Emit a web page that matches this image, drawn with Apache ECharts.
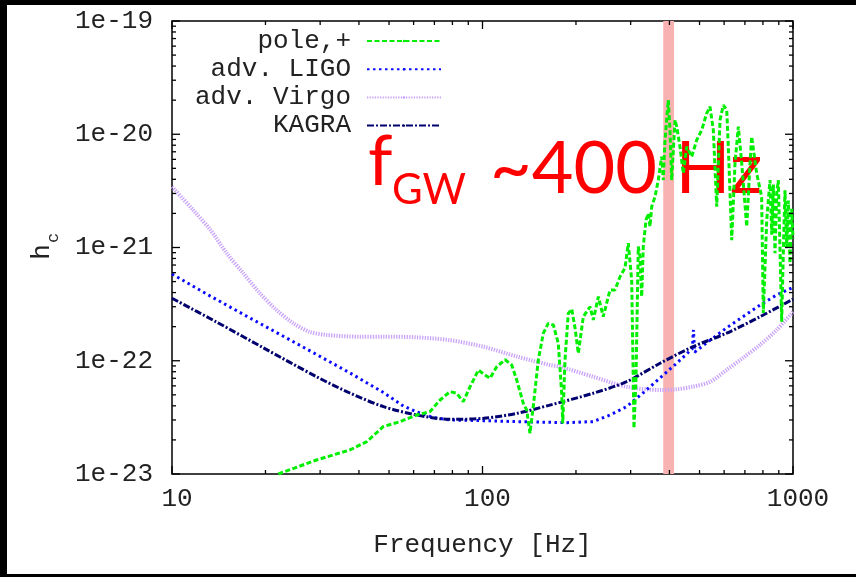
<!DOCTYPE html>
<html><head><meta charset="utf-8">
<script src="https://cdn.jsdelivr.net/npm/echarts@6/dist/echarts.min.js"></script>
<style>html,body{margin:0;padding:0;background:#fff}#c{width:856px;height:577px}</style>
</head><body><div id="c"></div>
<script>
// ---- data (frequency [Hz], h_c) ----
const seriesNames = ['pole,+', 'adv. LIGO', 'adv. Virgo', 'KAGRA'];
const pole = [[22.0,1.0e-23],[29.2,1.33e-23],[37.4,1.63e-23],[42.4,1.93e-23],[47.9,2.62e-23],[54.2,2.90e-23],[61.4,3.32e-23],[67.7,3.55e-23],[73.0,4.50e-23],[78.6,5.33e-23],[82.6,5.16e-23],[86.7,4.35e-23],[91.2,5.90e-23],[97.0,8.28e-23],[101.9,7.48e-23],[105.7,7.00e-23],[111.1,8.86e-23],[118.2,1.02e-22],[124.2,9.18e-23],[128.9,6.76e-23],[135.3,4.21e-23],[138.8,3.67e-23],[142.2,2.29e-23],[145.7,3.93e-23],[151.3,1.02e-22],[157.0,1.75e-22],[162.9,2.14e-22],[169.1,2.07e-22],[175.4,1.43e-22],[179.9,5.16e-23],[181.3,2.80e-23],[184.4,1.02e-22],[188.9,2.62e-22],[193.8,2.86e-22],[198.6,1.95e-22],[203.5,1.16e-22],[211.2,2.45e-22],[222.0,3.00e-22],[227.5,2.29e-22],[236.1,3.68e-22],[244.9,2.45e-22],[257.4,4.21e-22],[267.1,4.21e-22],[277.2,5.52e-22],[287.7,6.59e-22],[294.8,1.09e-21],[302.3,5.16e-22],[305.9,6.76e-23],[307.5,2.53e-23],[312.1,6.76e-23],[317.5,1.02e-21],[321.5,8.30e-22],[325.6,3.68e-22],[329.5,1.02e-21],[336.2,1.75e-21],[342.0,2.00e-21],[346.3,1.53e-21],[350.7,2.29e-21],[359.4,2.81e-21],[368.3,3.94e-21],[377.6,6.34e-21],[382.2,3.94e-21],[387.0,8.89e-21],[396.6,2.00e-20],[401.6,1.09e-20],[406.7,3.94e-21],[416.9,1.34e-20],[422.1,1.17e-20],[432.5,7.76e-21],[443.3,4.52e-21],[454.6,7.76e-21],[471.8,6.34e-21],[489.7,8.89e-21],[508.2,1.09e-20],[527.2,1.53e-20],[540.4,1.75e-20],[553.8,1.09e-20],[568.0,2.29e-21],[582.1,1.34e-20],[596.5,1.81e-20],[611.8,1.64e-20],[619.0,7.76e-21],[634.8,1.16e-21],[650.5,5.54e-21],[666.6,1.17e-20],[683.7,5.54e-21],[709.5,1.53e-21],[727.0,5.54e-21],[736.2,9.51e-21],[763.8,4.52e-21],[792.5,2.81e-21],[802.4,2.64e-22],[823,1.75e-21],[843.3,3.94e-21],[854,1.3e-21],[864.5,3.6e-21],[874.9,8.89e-22],[886.5,3.0e-21],[896.7,3.94e-21],[907.8,1.0e-21],[919.5,2.21e-22],[930.6,8.89e-22],[942.4,3.2e-21],[954.4,1.0e-21],[966.0,2.6e-21],[977.9,7.25e-22],[990,2.2e-21],[1000,1.2e-21]];
const ligo = [[10,5.84e-22],[13.25,3.74e-22],[17.8,2.39e-22],[25.8,1.37e-22],[37.4,7.81e-23],[48,5.24e-23],[55.6,3.98e-23],[61.4,3.53e-23],[69.5,3.15e-23],[78.7,3.0e-23],[100.5,2.96e-23],[128.9,2.90e-23],[186.6,2.84e-23],[227,2.90e-23],[257.6,3.32e-23],[291,3.93e-23],[328.6,5.19e-23],[373,7.05e-23],[422,9.5e-23],[474,1.28e-22],[478,1.87e-22],[482,1.19e-22],[541,1.52e-22],[611,1.95e-22],[690,2.45e-22],[783,3.10e-22],[886,3.81e-22],[1000,4.45e-22]];
const virgo = [[10,3.44e-21],[11.7,2.14e-21],[13.3,1.43e-21],[15.0,8.89e-22],[16.97,5.92e-22],[19.2,3.94e-22],[21.7,2.81e-22],[24.6,2.14e-22],[27.8,1.80e-22],[31.5,1.69e-22],[40.3,1.63e-22],[48,1.63e-22],[61.4,1.61e-22],[78.5,1.52e-22],[100.7,1.33e-22],[128.9,1.09e-22],[164.8,9.18e-23],[177.7,8.86e-23],[227,7.23e-23],[291,5.90e-23],[373,5.52e-23],[422,5.6e-23],[476,5.90e-23],[541,6.53e-23],[611,8.28e-23],[690,1.06e-22],[783,1.38e-22],[886,1.87e-22],[1000,2.7e-22]];
const kagra = [[10,3.56e-22],[13.9,2.20e-22],[19.7,1.30e-22],[29.2,7.23e-23],[37.4,5.19e-23],[48,3.93e-23],[61.4,3.32e-23],[78.5,3.04e-23],[100.7,3.10e-23],[128.9,3.43e-23],[164.8,4.06e-23],[227,5.16e-23],[291,6.53e-23],[373,9.5e-23],[476,1.33e-22],[611,1.75e-22],[783,2.45e-22],[1000,3.5e-22]];
const band = [382, 414];                 // highlighted frequency band [Hz]
const xMajor = [10, 100, 1000];
const xMinor = [20,30,40,50,60,70,80,90,200,300,400,500,600,700,800,900];
const yMajor = [1e-23, 1e-22, 1e-21, 1e-20, 1e-19];
const yTickLabels = ['1e-23', '1e-22', '1e-21', '1e-20', '1e-19'];
const yMinor = [];
[1e-23,1e-22,1e-21,1e-20].forEach(d => { for (let k = 2; k <= 9; k++) yMinor.push(k * d); });
const annotation = { main: 'f', sub: 'GW', rest: '~400 Hz' };

// ---- chart ----
const mono = 'Liberation Mono';
const txt = '#222';
const chart = echarts.init(document.getElementById('c'));

// tick data: [x, y, major(1)/minor(0)]
const xTickData = xMajor.map(v => [v, 1e-21, 1]).concat(xMinor.map(v => [v, 1e-21, 0]));
const yTickData = yMajor.map(v => [100, v, 1]).concat(yMinor.map(v => [100, v, 0]));

function tickSeries(side) {
  const isX = side === 'bottom' || side === 'top';
  return {
    name: 'ticks-' + side, type: 'custom', clip: false, silent: true, z: 8,
    data: isX ? xTickData : yTickData,
    renderItem: function (params, api) {
      const cs = params.coordSys;
      const p = api.coord([api.value(0), api.value(1)]);
      const len = api.value(2) ? 8 : 4;
      const w = 1.3;
      let shape;
      if (side === 'bottom') shape = { x: p[0] - w / 2, y: cs.y + cs.height - len, width: w, height: len };
      else if (side === 'top') shape = { x: p[0] - w / 2, y: cs.y, width: w, height: len };
      else if (side === 'left') shape = { x: cs.x, y: p[1] - w / 2, width: len, height: w };
      else shape = { x: cs.x + cs.width - len, y: p[1] - w / 2, width: len, height: w };
      return { type: 'rect', shape: shape, style: { fill: '#000' } };
    }
  };
}

const option = {
  animation: false,
  backgroundColor: '#fff',
  grid: { left: 172, right: 63, top: 21, bottom: 103, outerBoundsMode: 'none',
          show: true, borderColor: '#000', borderWidth: 1.5, backgroundColor: 'transparent' },
  xAxis: {
    type: 'log', logBase: 10, min: 10, max: 1000,
    axisLine: { show: false }, axisTick: { show: false }, splitLine: { show: false },
    axisLabel: { formatter: v => String(Math.round(v)), fontFamily: mono, fontSize: 26, color: txt, margin: 12, padding: [0, 0, 0, 10] },
    name: 'Frequency [Hz]', nameLocation: 'middle', nameGap: 58,
    nameTextStyle: { fontFamily: mono, fontSize: 26, color: txt }
  },
  yAxis: {
    type: 'log', logBase: 10, min: 1e-23, max: 1e-19,
    axisLine: { show: false }, axisTick: { show: false }, splitLine: { show: false }, axisLabel: { show: false }
  },
  legend: {
    data: seriesNames, orient: 'vertical', right: 409, top: 23, align: 'right',
    itemWidth: 74, itemHeight: 3, itemGap: 2.2, selectedMode: false,
    textStyle: { fontFamily: mono, fontSize: 26, color: txt, padding: [0, 11, 0, 0] }
  },
  graphic: [
    { type: 'rect', shape: { x: 0, y: 0, width: 856, height: 5 }, style: { fill: '#000' }, z: 50 },
    { type: 'rect', shape: { x: 0, y: 0, width: 7, height: 577 }, style: { fill: '#000' }, z: 50 },
    { type: 'rect', shape: { x: 0, y: 574, width: 856, height: 3 }, style: { fill: '#000' }, z: 50 },
    { type: 'text', x: 368, y: 162, z: 1, style: { text: annotation.main, font: '70px Lato', fill: '#ff0000', verticalAlign: 'middle' } },
    { type: 'text', x: 392, y: 190, z: 1, style: { text: annotation.sub, font: '42px Lato', fill: '#ff0000', verticalAlign: 'middle' } },
    { type: 'text', x: 490, y: 170, z: 1, style: { text: annotation.rest, font: '72px Lato', fill: '#ff0000', verticalAlign: 'middle' } },
    { type: 'text', x: 42, y: 252, rotation: Math.PI / 2, z: 5, style: { text: 'h', font: '26px "Liberation Mono"', fill: txt, align: 'center', verticalAlign: 'middle' } },
    { type: 'text', x: 53, y: 238, rotation: Math.PI / 2, z: 5, style: { text: 'c', font: '17px "Liberation Mono"', fill: txt, align: 'center', verticalAlign: 'middle' } }
  ],
  series: [
    { name: 'band', type: 'line', data: [[band[0], 1e-21]], symbol: 'none', lineStyle: { opacity: 0 }, z: 2, silent: true,
      markArea: { silent: true, itemStyle: { color: '#f9b2b2' }, data: [[{ xAxis: band[0] }, { xAxis: band[1] }]] } },
    { name: seriesNames[2], type: 'line', data: virgo, symbol: 'none', smooth: 0.3, z: 3,
      lineStyle: { color: '#c9a3f7', width: 4, type: [1.3, 1.3] }, itemStyle: { color: '#c9a3f7' } },
    { name: seriesNames[1], type: 'line', data: ligo, symbol: 'none', z: 4,
      lineStyle: { color: '#0a0aff', width: 3, type: [2.5, 3.5] }, itemStyle: { color: '#0a0aff' } },
    { name: seriesNames[3], type: 'line', data: kagra, symbol: 'none', smooth: 0.3, z: 4,
      lineStyle: { color: '#00006e', width: 3, type: [7, 2, 2, 2] }, itemStyle: { color: '#00006e' } },
    { name: seriesNames[0], type: 'line', data: pole, symbol: 'none', z: 5,
      lineStyle: { color: '#00ee00', width: 3, type: [5, 2.5] }, itemStyle: { color: '#00ee00' } },
    tickSeries('bottom'), tickSeries('top'), tickSeries('left'), tickSeries('right'),
    { name: 'ylabels', type: 'custom', clip: false, silent: true, z: 8,
      data: yMajor.map((v, i) => [100, v, i]),
      renderItem: function (params, api) {
        const cs = params.coordSys;
        const p = api.coord([api.value(0), api.value(1)]);
        return { type: 'text', x: cs.x - 19, y: p[1],
          style: { text: yTickLabels[api.value(2)], font: '26px "Liberation Mono"', fill: txt, align: 'right', verticalAlign: 'middle' } };
      } }
  ]
};
chart.setOption(option);
</script>
</body></html>
